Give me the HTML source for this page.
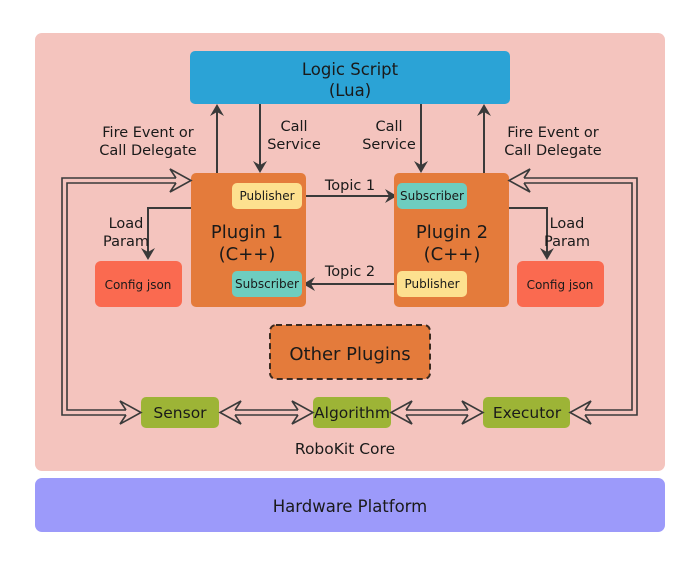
<!DOCTYPE html>
<html><head><meta charset="utf-8"><style>
html,body{margin:0;padding:0;background:#fff;}
svg{display:block;}
text{font-family:"DejaVu Sans","Liberation Sans",sans-serif;fill:#1a1a1a;}
.t14{font-size:14.5px;}
.t16{font-size:16.5px;}
.t17{font-size:18px;}
.t12{font-size:12px;}
.t15{font-size:15.5px;}
</style></head><body>
<svg width="690" height="561" viewBox="0 0 690 561" xmlns="http://www.w3.org/2000/svg">
<rect x="35" y="33" width="630" height="438" rx="7" fill="#f4c4be"/>
<rect x="35" y="478" width="630" height="54" rx="7" fill="#9c9afa"/>
<text x="350" y="512" class="t16" text-anchor="middle">Hardware Platform</text>
<text x="345" y="454" class="t15" text-anchor="middle">RoboKit Core</text>

<rect x="190" y="51" width="320" height="53" rx="5" fill="#2ba3d6"/>
<text x="350" y="75" class="t16" text-anchor="middle">Logic Script</text>
<text x="350" y="96" class="t16" text-anchor="middle">(Lua)</text>

<g stroke="#3a3a3a" stroke-width="2" fill="none">
<line x1="217" y1="173" x2="217" y2="110"/>
<line x1="260" y1="104" x2="260" y2="166"/>
<line x1="421" y1="104" x2="421" y2="166"/>
<line x1="484" y1="173" x2="484" y2="110"/>
<line x1="302" y1="196" x2="390" y2="196"/>
<line x1="397" y1="284" x2="310" y2="284"/>
<path d="M191,208 H148 V252"/>
<path d="M509,208 H547 V252"/>
</g>
<g fill="#3a3a3a">
<path d="M217,104 L210,116 L217,112 L224,116Z"/>
<path d="M484,104 L477,116 L484,112 L491,116Z"/>
<path d="M260,173 L253,161 L260,165 L267,161Z"/>
<path d="M421,173 L414,161 L421,165 L428,161Z"/>
<path d="M397,196 L385,189 L389,196 L385,203Z"/>
<path d="M303,284 L315,277 L311,284 L315,291Z"/>
<path d="M148,260 L141,248 L148,252 L155,248Z"/>
<path d="M547,260 L540,248 L547,252 L554,248Z"/>
</g>

<g class="t14" text-anchor="middle">
<text x="148" y="137">Fire Event or</text><text x="148" y="155">Call Delegate</text>
<text x="294" y="131">Call</text><text x="294" y="149">Service</text>
<text x="389" y="131">Call</text><text x="389" y="149">Service</text>
<text x="553" y="137">Fire Event or</text><text x="553" y="155">Call Delegate</text>
<text x="350" y="190">Topic 1</text>
<text x="350" y="276">Topic 2</text>
<text x="126" y="228">Load</text><text x="126" y="246">Param</text>
<text x="567" y="228">Load</text><text x="567" y="246">Param</text>
</g>

<rect x="191" y="173" width="115" height="134" rx="5" fill="#e47b3b"/>
<rect x="394" y="173" width="115" height="134" rx="5" fill="#e47b3b"/>
<text x="247" y="238" class="t17" text-anchor="middle">Plugin 1</text>
<text x="247" y="260" class="t17" text-anchor="middle">(C++)</text>
<text x="452" y="238" class="t17" text-anchor="middle">Plugin 2</text>
<text x="452" y="260" class="t17" text-anchor="middle">(C++)</text>

<rect x="232" y="183" width="70" height="26" rx="5" fill="#fde08f"/>
<text x="267" y="200" class="t12" text-anchor="middle">Publisher</text>
<rect x="232" y="271" width="70" height="26" rx="5" fill="#6ecdbf"/>
<text x="267" y="288" class="t12" text-anchor="middle">Subscriber</text>
<rect x="397" y="183" width="70" height="26" rx="5" fill="#6ecdbf"/>
<text x="432" y="200" class="t12" text-anchor="middle">Subscriber</text>
<rect x="397" y="271" width="70" height="26" rx="5" fill="#fde08f"/>
<text x="432" y="288" class="t12" text-anchor="middle">Publisher</text>

<rect x="95" y="261" width="87" height="46" rx="6" fill="#fa6a50"/>
<text x="138" y="289" class="t12" text-anchor="middle">Config json</text>
<rect x="517" y="261" width="87" height="46" rx="6" fill="#fa6a50"/>
<text x="560" y="289" class="t12" text-anchor="middle">Config json</text>

<rect x="270" y="325" width="160" height="54" rx="6" fill="#e47b3b" stroke="#3a2a20" stroke-width="2" stroke-dasharray="6,4"/>
<text x="350" y="360" class="t17" text-anchor="middle">Other Plugins</text>

<rect x="141" y="397" width="78" height="31" rx="5" fill="#9db436"/>
<text x="180" y="418" class="t15" text-anchor="middle">Sensor</text>
<rect x="313" y="397" width="78" height="31" rx="5" fill="#9db436"/>
<text x="352" y="418" class="t15" text-anchor="middle">Algorithm</text>
<rect x="483" y="397" width="87" height="31" rx="5" fill="#9db436"/>
<text x="527" y="418" class="t15" text-anchor="middle">Executor</text>

<g stroke="#3a3a3a" stroke-width="1.6" fill="none" stroke-linejoin="miter">
<path d="M176,178 H62 V415 H126"/>
<path d="M176,183 H67 V410 H126"/>
<path d="M176,178 L170,169 L191,180.5 L170,192 L176,183" fill="#f4c4be"/>
<path d="M126,410 L120,401 L141,412.5 L120,424 L126,415" fill="#f4c4be"/>
<path d="M524,178 H637 V415 H585"/>
<path d="M524,183 H632 V410 H585"/>
<path d="M524,178 L530,169 L509,180.5 L530,192 L524,183" fill="#f4c4be"/>
<path d="M585,410 L591,401 L570,412.5 L591,424 L585,415" fill="#f4c4be"/>
<path d="M235,410 H298 M235,415 H298"/>
<path d="M235,410 L241,401 L220,412.5 L241,424 L235,415" fill="#f4c4be"/>
<path d="M298,410 L292,401 L313,412.5 L292,424 L298,415" fill="#f4c4be"/>
<path d="M406,410 H468 M406,415 H468"/>
<path d="M406,410 L412,401 L391,412.5 L412,424 L406,415" fill="#f4c4be"/>
<path d="M468,410 L462,401 L483,412.5 L462,424 L468,415" fill="#f4c4be"/>
</g>
</svg>
</body></html>
